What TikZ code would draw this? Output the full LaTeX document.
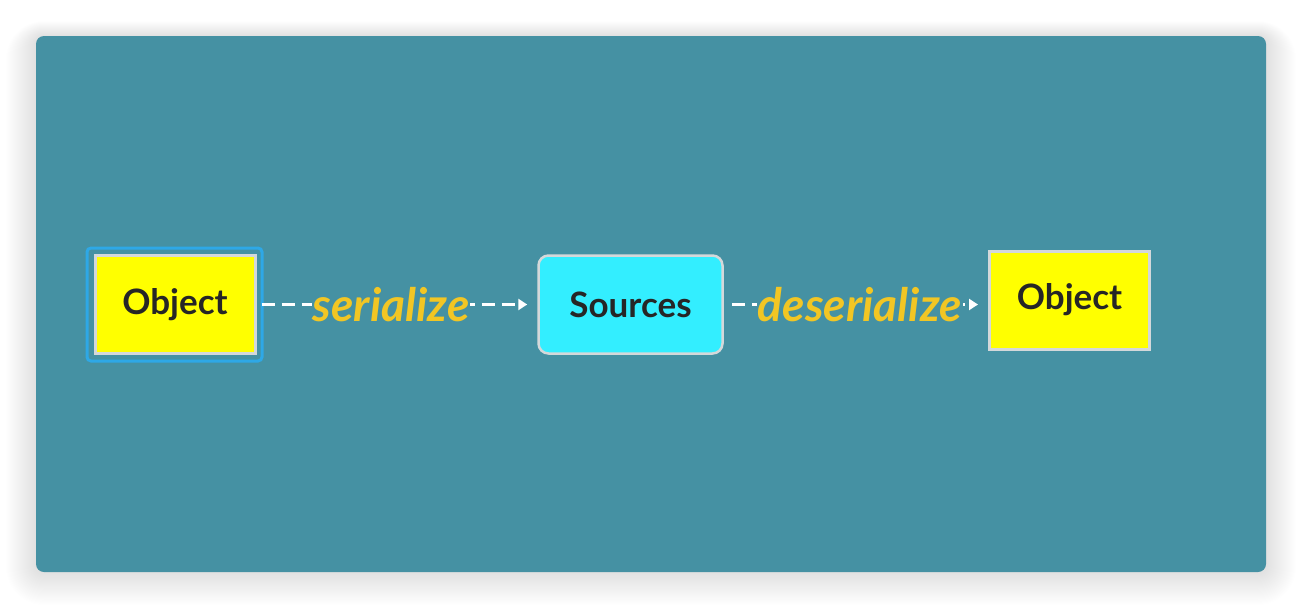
\documentclass[tikz,border=0pt]{standalone}
\usepackage{fontspec}
\setmainfont{Lato}
\usepackage{tikz}
\usetikzlibrary{positioning, arrows.meta, calc}
\definecolor{panelc}{HTML}{4591A3}
\definecolor{objc}{HTML}{FFFF00}
\definecolor{srcc}{HTML}{33EEFF}
\definecolor{labc}{HTML}{F2C624}
\definecolor{selc}{HTML}{2EA8E6}
\definecolor{edgec}{HTML}{D4D8DA}
\newcommand{\labfont}{\fontsize{46}{48}\selectfont\bfseries\itshape}

\begin{document}
\begin{tikzpicture}[x=1pt, y=-1pt]
	\tikzstyle{objbox}=[rectangle, draw=edgec, line width=3pt, fill=objc, minimum width=160pt, minimum height=98pt, font=\fontsize{35}{38}\selectfont\bfseries, text=black!85]
	\tikzstyle{srcbox}=[rectangle, rounded corners=10pt, draw=edgec, line width=2.5pt, fill=srcc, minimum width=184pt, minimum height=98pt, font=\fontsize{35}{38}\selectfont\bfseries, text=black!85]
	\tikzstyle{flow}=[white, line width=3pt, dash pattern=on 13pt off 7pt, -{Triangle[width=11pt,length=9pt]}, shorten >=10pt]
	\tikzstyle{lab}=[fill=panelc, text=labc, inner sep=1pt, font=\labfont]
	\useasboundingbox (0,0) rectangle (1302,608);
	
	% shadow and panel
	\foreach \i in {1,...,30}
		\fill[black, opacity=0.0045, rounded corners=8pt+\i] (36-\i,36-0.5*\i) rectangle (1266+\i,572+1.1*\i);
	\fill[panelc, rounded corners=8pt] (36,36) rectangle (1266,572);
	
	% boxes
	\draw[selc, line width=3pt, rounded corners=4pt] (87,248) rectangle (262,361);
	\node (obj1) at (175,304.5) [objbox]{Object};
	\node (src) at (630.5,304.5) [srcbox]{Sources};
	\node (obj2) at (1069.5,300) [objbox]{Object};
	
	% arrows
	\draw[flow] (obj1.east) ++(5,0) coordinate (s1) -- node[lab, pos=0.47] {serialize} (src.west |- s1);
	\draw[flow] (src.east) ++(8,0) coordinate (s2) -- node[lab, pos=0.5] {deserialize} (obj2.west |- s2);
\end{tikzpicture}
\end{document}
